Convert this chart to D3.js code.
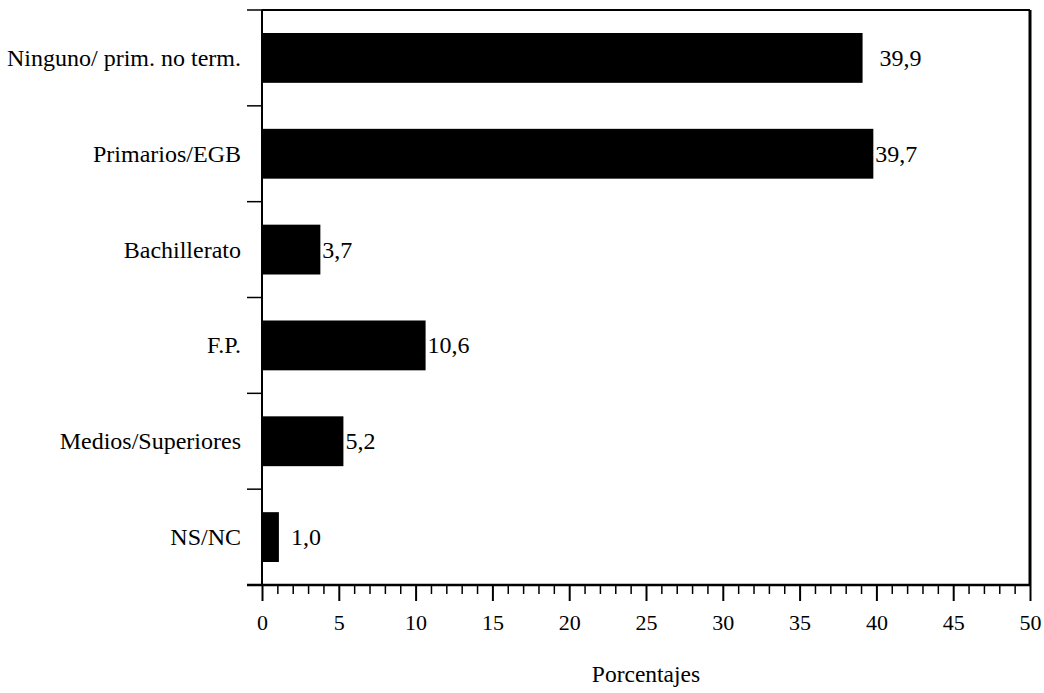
<!DOCTYPE html>
<html>
  <head>
    <title>Nivel de estudios</title>
    <script src="https://d3js.org/d3.v7.min.js"></script>
    <style>
      body { margin: 0; background: #fff; overflow: hidden; }
      svg { display: block; }
      svg text { font-family: "Liberation Serif", "Times New Roman", serif; fill: #000; }
    </style>
  </head>
  <body>
    <svg></svg>
    <script>
      // data
      var categories = ['Ninguno/ prim. no term.', 'Primarios/EGB', 'Bachillerato', 'F.P.', 'Medios/Superiores', 'NS/NC'];
      var barValues = [39.1, 39.8, 3.8, 10.65, 5.3, 1.1];
      var valueLabels = ['39,9', '39,7', '3,7', '10,6', '5,2', '1,0'];
      var xTicks = [0, 5, 10, 15, 20, 25, 30, 35, 40, 45, 50];
      var xAxisLabel = 'Porcentajes';

      // label gap after each bar (layout only)
      var labelGap = [17, 2, 2, 2, 2, 12];

      var serif = '"Liberation Serif", "Times New Roman", serif';

      const svg = d3.select('svg')
        .attr('width', 1044)
        .attr('height', 693);

      var margin = { top: 10, right: 14, bottom: 108, left: 262 };
      var width = +svg.attr('width');
      var height = +svg.attr('height');
      var innerWidth = width - margin.left - margin.right;
      var innerHeight = height - margin.top - margin.bottom;

      const xScale = d3.scaleLinear()
        .domain([0, 50])
        .range([0, innerWidth]);

      const yScale = d3.scaleBand()
        .domain(categories)
        .range([0, innerHeight])
        .paddingInner(0.48)
        .paddingOuter(0.24);

      const g = svg.append('g')
        .attr('transform', `translate(${margin.left},${margin.top})`);

      // bars
      g.selectAll('rect.bar').data(categories)
        .enter().append('rect')
          .attr('class', 'bar')
          .attr('x', 0)
          .attr('y', d => yScale(d))
          .attr('width', (d, i) => xScale(barValues[i]))
          .attr('height', yScale.bandwidth())
          .attr('fill', '#000');

      g.selectAll('text.value').data(categories)
        .enter().append('text')
          .attr('class', 'value')
          .attr('x', (d, i) => xScale(barValues[i]) + labelGap[i])
          .attr('y', d => yScale(d) + yScale.bandwidth() / 2 + 8)
          .style('font-family', serif)
          .style('font-size', '24px')
          .text((d, i) => valueLabels[i]);

      // frame: top and right
      g.append('line')
        .attr('x1', 0).attr('x2', innerWidth)
        .attr('y1', 0).attr('y2', 0)
        .attr('stroke', '#000').attr('stroke-width', 2);
      g.append('line')
        .attr('x1', innerWidth).attr('x2', innerWidth)
        .attr('y1', 0).attr('y2', innerHeight)
        .attr('stroke', '#000').attr('stroke-width', 3);

      // y axis: category dividers with outward ticks
      var step = innerHeight / categories.length;
      var dividers = d3.range(categories.length + 1).map(i => i * step);
      g.append('line')
        .attr('x1', 0).attr('x2', 0)
        .attr('y1', 0).attr('y2', innerHeight)
        .attr('stroke', '#000').attr('stroke-width', 2);
      g.selectAll('line.ytick').data(dividers)
        .enter().append('line')
          .attr('class', 'ytick')
          .attr('x1', -15).attr('x2', 0)
          .attr('y1', d => d).attr('y2', d => d)
          .attr('stroke', '#000').attr('stroke-width', 1.5);

      g.selectAll('text.cat').data(categories)
        .enter().append('text')
          .attr('class', 'cat')
          .attr('x', -21)
          .attr('y', d => yScale(d) + yScale.bandwidth() / 2 + 8)
          .attr('text-anchor', 'end')
          .style('font-family', serif)
          .style('font-size', '24px')
          .text(d => d);

      // x axis
      const xAxis = d3.axisBottom(xScale)
        .tickValues(xTicks)
        .tickSize(16)
        .tickPadding(13)
        .tickFormat(d3.format('d'));

      const xAxisG = g.append('g')
        .attr('transform', `translate(0,${innerHeight})`)
        .call(xAxis);

      xAxisG.select('.domain').remove();
      xAxisG.selectAll('.tick line').attr('stroke-width', 2);
      xAxisG.selectAll('.tick text')
        .style('font-family', serif)
        .style('font-size', '22px');

      g.append('line')
        .attr('x1', -15).attr('x2', innerWidth)
        .attr('y1', innerHeight).attr('y2', innerHeight)
        .attr('stroke', '#000').attr('stroke-width', 2.5);

      const minorAxis = d3.axisBottom(xScale)
        .tickValues(d3.range(0, 51).filter(v => v % 5 !== 0))
        .tickSize(9)
        .tickFormat('');
      const minorG = g.append('g')
        .attr('transform', `translate(0,${innerHeight})`)
        .call(minorAxis);
      minorG.select('.domain').remove();
      minorG.selectAll('.tick line').attr('stroke-width', 1.5);

      g.append('text')
        .attr('x', innerWidth / 2)
        .attr('y', innerHeight + 97)
        .attr('text-anchor', 'middle')
        .style('font-family', serif)
        .style('font-size', '23.5px')
        .text(xAxisLabel);
    </script>
  </body>
</html>
